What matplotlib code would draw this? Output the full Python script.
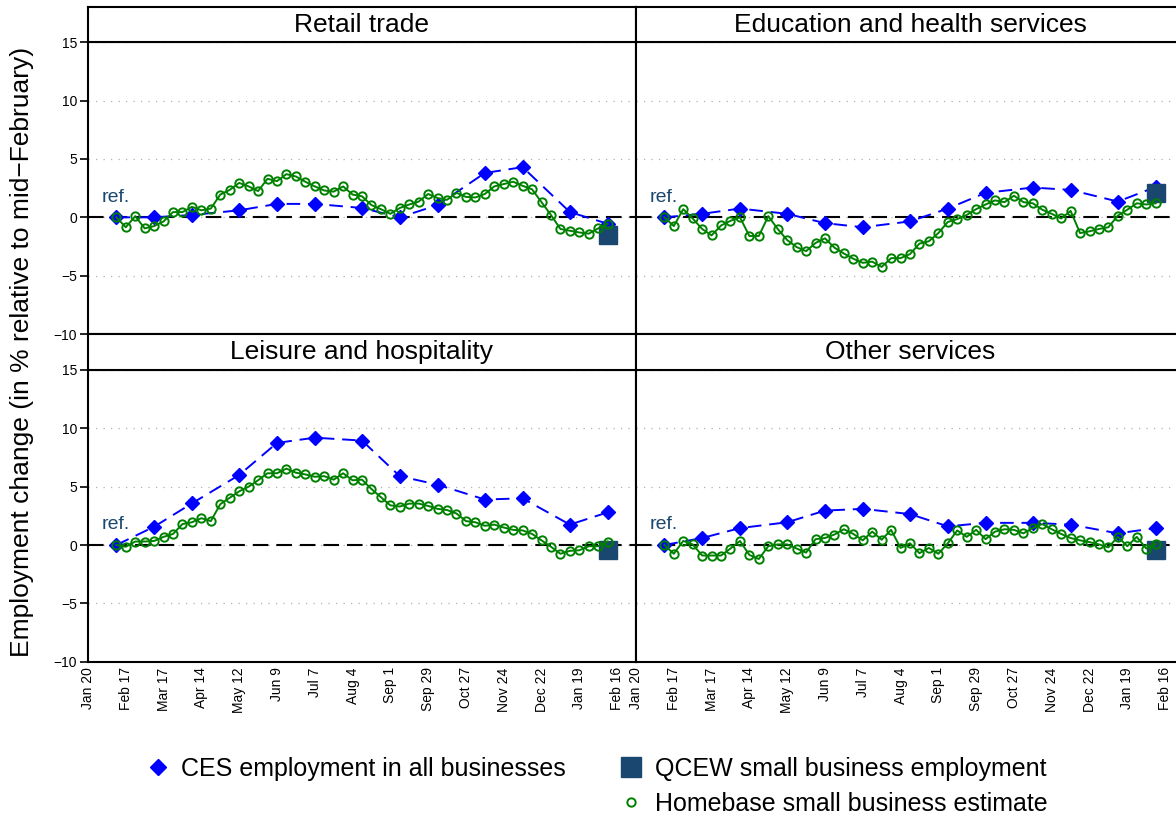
import numpy as np
import pandas as pd
import matplotlib
matplotlib.use('Agg')
import matplotlib.pyplot as plt
from matplotlib.lines import Line2D

plt.rcParams['font.family'] = ['Liberation Sans', 'DejaVu Sans']

# x axis: weeks since Jan 20 2020, ticks every 4 weeks
tick_labels = ['Jan 20', 'Feb 17', 'Mar 17', 'Apr 14', 'May 12', 'Jun 9', 'Jul 7',
               'Aug 4', 'Sep 1', 'Sep 29', 'Oct 27', 'Nov 24', 'Dec 22', 'Jan 19', 'Feb 16']
start = pd.Timestamp('2020-01-20')

# Homebase weekly estimates
hb_dates = pd.date_range('2020-02-10', '2021-02-08', freq='7D')
# CES monthly (reference week)
ces_dates = pd.to_datetime(['2020-02-10', '2020-03-09', '2020-04-06', '2020-05-11', '2020-06-08',
                            '2020-07-06', '2020-08-10', '2020-09-07', '2020-10-05', '2020-11-09',
                            '2020-12-07', '2021-01-11', '2021-02-08'])
qcew_date = pd.Timestamp('2021-02-08')

titles = ['Retail trade', 'Education and health services',
          'Leisure and hospitality', 'Other services']

retail_ces = [0, 0, 0.2, 0.6, 1.15, 1.15, 0.8, 0.0, 1.05, 3.8, 4.3, 0.45, -0.55]
educ_ces = [0, 0.3, 0.75, 0.3, -0.5, -0.85, -0.35, 0.75, 2.1, 2.55, 2.35, 1.35, 2.6]
leis_ces = [0, 1.57, 3.57, 6.0, 8.75, 9.2, 8.95, 5.9, 5.17, 3.9, 4.0, 1.75, 2.8]
other_ces = [0, 0.6, 1.45, 1.95, 2.95, 3.1, 2.65, 1.6, 1.9, 1.9, 1.75, 1.0, 1.45]

retail_qcew = -1.5
educ_qcew = 2.1
leis_qcew = -0.4
other_qcew = -0.4

retail_hb = [0, -0.85, 0.1, -0.95, -0.75, -0.35, 0.45, 0.45, 0.9, 0.6,
             0.75, 1.95, 2.35, 2.95, 2.65, 2.25, 3.3, 3.1, 3.7, 3.5,
             3.05, 2.65, 2.3, 2.2, 2.65, 1.95, 1.8, 1.05, 0.7, 0.3,
             0.8, 1.1, 1.35, 2.0, 1.65, 1.5, 2.1, 1.75, 1.7, 2.0,
             2.65, 2.85, 3.05, 2.7, 2.4, 1.3, 0.2, -1.0, -1.15, -1.3,
             -1.4, -0.95, -0.55]
educ_hb = [0, -0.75, 0.7, -0.1, -1.0, -1.55, -0.7, -0.3, 0.0, -1.6,
           -1.6, 0.1, -1.0, -1.95, -2.55, -2.9, -2.2, -1.8, -2.6, -3.1,
           -3.55, -3.9, -3.8, -4.25, -3.5, -3.5, -3.15, -2.25, -2.05, -1.35,
           -0.4, -0.15, 0.2, 0.7, 1.1, 1.45, 1.3, 1.85, 1.3, 1.2,
           0.65, 0.3, -0.1, 0.55, -1.35, -1.2, -1.0, -0.85, 0.15, 0.65,
           1.2, 1.1, 1.2]
leis_hb = [0, -0.15, 0.3, 0.3, 0.35, 0.7, 0.95, 1.8, 1.95, 2.3,
           2.05, 3.5, 4.05, 4.6, 5.0, 5.55, 6.15, 6.15, 6.55, 6.2,
           6.05, 5.85, 5.9, 5.6, 6.15, 5.55, 5.6, 4.8, 4.1, 3.4,
           3.3, 3.55, 3.55, 3.35, 3.1, 3.0, 2.7, 2.05, 1.95, 1.65,
           1.75, 1.5, 1.3, 1.25, 0.95, 0.4, -0.15, -0.75, -0.5, -0.45,
           -0.1, -0.1, 0.3]
other_hb = [0, -0.75, 0.35, 0.05, -0.9, -0.9, -0.9, -0.3, 0.35, -0.85,
            -1.2, -0.1, 0.05, 0.05, -0.3, -0.65, 0.5, 0.6, 0.9, 1.35,
            0.95, 0.4, 1.15, 0.45, 1.3, -0.25, 0.15, -0.7, -0.25, -0.75,
            0.15, 1.25, 0.7, 1.3, 0.5, 1.15, 1.35, 1.3, 1.0, 1.45,
            1.8, 1.35, 0.95, 0.6, 0.4, 0.25, 0.05, -0.2, 0.7, -0.1,
            0.7, -0.3, 0.1]

ces_all = [retail_ces, educ_ces, leis_ces, other_ces]
qcew_all = [retail_qcew, educ_qcew, leis_qcew, other_qcew]
hb_all = [retail_hb, educ_hb, leis_hb, other_hb]

def weeks(d):
    return (d - start).days / 7.0

hb_x = weeks(hb_dates)
ces_x = weeks(ces_dates)
qcew_x = weeks(qcew_date)
tick_x = np.arange(len(tick_labels)) * 4

CES_C = '#0000ff'
HB_C = '#008000'
QC_C = '#1a476f'

W, H = 1176, 819
fig = plt.figure(figsize=(W / 100, H / 100), dpi=100)

col_left = [88, 636]
col_w = 548
plot_top = [42.3, 370]
plot_h = 291.7
strip_top = [7.3, 334]
strip_h = [35, 36]

for i in range(4):
    r, c = divmod(i, 2)
    x0 = col_left[c] / W
    ax = fig.add_axes([x0, 1 - (plot_top[r] + plot_h) / H, col_w / W, plot_h / H])
    sx = fig.add_axes([x0, 1 - (strip_top[r] + strip_h[r]) / H, col_w / W, strip_h[r] / H])
    sx.set_xticks([])
    sx.set_yticks([])
    for s in sx.spines.values():
        s.set_linewidth(1.5)
    sx.text(0.5, 0.5, titles[i], ha='center', va='center', fontsize=19,
            transform=sx.transAxes)

    ax.axhline(0, color='black', lw=1.5, dashes=(7.5, 3.8), zorder=2)
    ax.plot(ces_x, ces_all[i], color=CES_C, lw=1.4, dashes=(7, 4),
            marker='D', ms=7, zorder=3)
    ax.plot([qcew_x], [qcew_all[i]], ls='none', marker='s', ms=12.5,
            color=QC_C, zorder=4)
    ax.plot(hb_x, hb_all[i], color=HB_C, lw=1.4, marker='o', ms=6,
            mfc='none', mec=HB_C, mew=1.4, zorder=5)
    ax.text(1.4, 1.35, 'ref.', color=QC_C, fontsize=14, ha='left', va='baseline')

    ax.set_xlim(0, 58)
    ax.set_ylim(-10, 15)
    ax.set_yticks([-10, -5, 0, 5, 10, 15])
    ax.grid(axis='y', linestyle=(0, (1, 5)), color='#b0b0b0', lw=0.9)
    ax.set_xticks(tick_x)
    for s in ax.spines.values():
        s.set_linewidth(1.5)
    if r == 1:
        ax.set_xticklabels(tick_labels, rotation=90)
        ax.tick_params(axis='x', length=0, pad=4, labelsize=10)
    else:
        ax.tick_params(axis='x', length=0, labelbottom=False)
    if c == 0:
        ax.tick_params(axis='y', direction='out', length=6, width=1.2,
                       labelsize=10, pad=2)
    else:
        ax.tick_params(axis='y', length=0, labelleft=False)

fig.text(22 / W, 1 - 352 / H, 'Employment change (in % relative to mid\u2212February)',
         rotation=90, ha='center', va='center', fontsize=19)

ces_h = Line2D([], [], ls='none', marker='D', ms=8, color=CES_C)
blank_h = Line2D([], [], ls='none')
qcew_h = Line2D([], [], ls='none', marker='s', ms=14, color=QC_C)
hb_h = Line2D([], [], ls='none', marker='o', ms=6, mfc='none', mec=HB_C, mew=1.4)
fig.legend([ces_h, blank_h, qcew_h, hb_h],
           ['CES employment in all businesses', '',
            'QCEW small business employment', 'Homebase small business estimate'],
           ncol=2, loc='center left', bbox_to_anchor=(145 / W, 1 - 786.5 / H),
           frameon=False, fontsize=18, handlelength=1.0, handletextpad=0.45,
           columnspacing=2.1, labelspacing=0.45, borderpad=0, borderaxespad=0)

fig.savefig('out.png', dpi=100)
